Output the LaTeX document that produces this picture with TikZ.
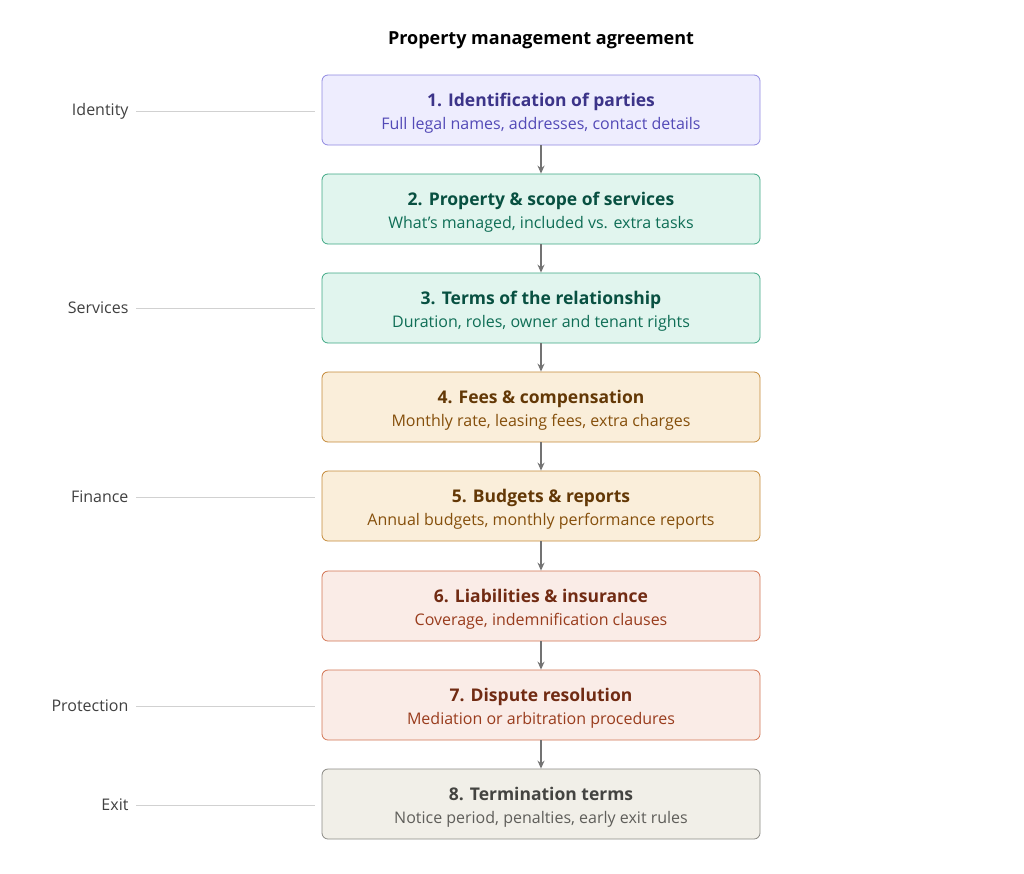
\documentclass[tikz,border=0pt]{standalone}
\usepackage{fontspec}
\setmainfont{Open Sans}
\usetikzlibrary{arrows.meta}
\definecolor{pf}{HTML}{EEEDFE}\definecolor{pd}{HTML}{8F88E0}\definecolor{pt}{HTML}{3C3489}\definecolor{ps}{HTML}{534AB7}
\definecolor{tf}{HTML}{E1F5EE}\definecolor{td}{HTML}{3FA884}\definecolor{tt}{HTML}{085041}\definecolor{ts}{HTML}{0F6E56}
\definecolor{af}{HTML}{FAEEDA}\definecolor{ad}{HTML}{C48A3A}\definecolor{at}{HTML}{633806}\definecolor{as}{HTML}{854F0B}
\definecolor{rf}{HTML}{FAECE7}\definecolor{rd}{HTML}{D27452}\definecolor{rt}{HTML}{712B13}\definecolor{rs}{HTML}{993C1D}
\definecolor{gf}{HTML}{F1EFE8}\definecolor{gd}{HTML}{8A8984}\definecolor{gt}{HTML}{444441}\definecolor{gs}{HTML}{5F5E5A}
\tikzset{
 box/.style 2 args={draw=#2,fill=#1,line width=0.8pt,rounded corners=6pt,minimum width=438pt,minimum height=70pt,inner sep=0pt},
 hd/.style={font=\fontsize{17.5}{20}\bfseries\selectfont,inner sep=0pt},
 sb/.style={font=\fontsize{16}{19}\selectfont,inner sep=0pt},
 lab/.style={font=\fontsize{16}{19}\selectfont,text=black!75},
 guide/.style={draw=black!18,line width=0.8pt},
 flow/.style={draw=black!55,line width=1.3pt,-{Stealth[length=8pt,width=7pt]}}
}
\begin{document}
\begin{tikzpicture}[x=1pt,y=-1pt]
\useasboundingbox (0,0) rectangle (1024,873);
\node[font=\fontsize{18}{21}\bfseries\selectfont] (title) at (541,40) {Property management agreement};
\def\mk#1#2#3#4#5#6#7#8{\node[box={#1}{#2}] (#8) at (541,#7) {};
 \node[hd,text=#3] (#8h) at (541,#7-8) {\strut #4};
 \node[sb,text=#5] (#8s) at (541,#7+16) {\strut #6};}
\mk{pf}{pd}{pt}{1. Identification of parties}{ps}{Full legal names, addresses, contact details}{110}{b1}
\mk{tf}{td}{tt}{2. Property \& scope of services}{ts}{What's managed, included vs. extra tasks}{209}{b2}
\mk{tf}{td}{tt}{3. Terms of the relationship}{ts}{Duration, roles, owner and tenant rights}{308}{b3}
\mk{af}{ad}{at}{4. Fees \& compensation}{as}{Monthly rate, leasing fees, extra charges}{407}{b4}
\mk{af}{ad}{at}{5. Budgets \& reports}{as}{Annual budgets, monthly performance reports}{506}{b5}
\mk{rf}{rd}{rt}{6. Liabilities \& insurance}{rs}{Coverage, indemnification clauses}{606}{b6}
\mk{rf}{rd}{rt}{7. Dispute resolution}{rs}{Mediation or arbitration procedures}{705}{b7}
\mk{gf}{gd}{gt}{8. Termination terms}{gs}{Notice period, penalties, early exit rules}{804}{b8}
\foreach \a/\b in {b1/b2,b2/b3,b3/b4,b4/b5,b5/b6,b6/b7,b7/b8} \draw[flow] (\a.south) -- (\b.north);
\node[lab,anchor=east] (l1) at (132,111) {Identity};
\node[lab,anchor=east] (l2) at (132,308) {Services};
\node[lab,anchor=east] (l3) at (132,497) {Finance};
\node[lab,anchor=east] (l4) at (132,706) {Protection};
\node[lab,anchor=east] (l5) at (132,805) {Exit};
\coordinate (c1) at (315,111);\coordinate (c2) at (315,308);\coordinate (c3) at (315,497);\coordinate (c4) at (315,706);\coordinate (c5) at (315,805);
\foreach \i in {1,...,5} \draw[guide] ([xshift=4pt]l\i.east) -- (c\i);
\end{tikzpicture}
\end{document}
